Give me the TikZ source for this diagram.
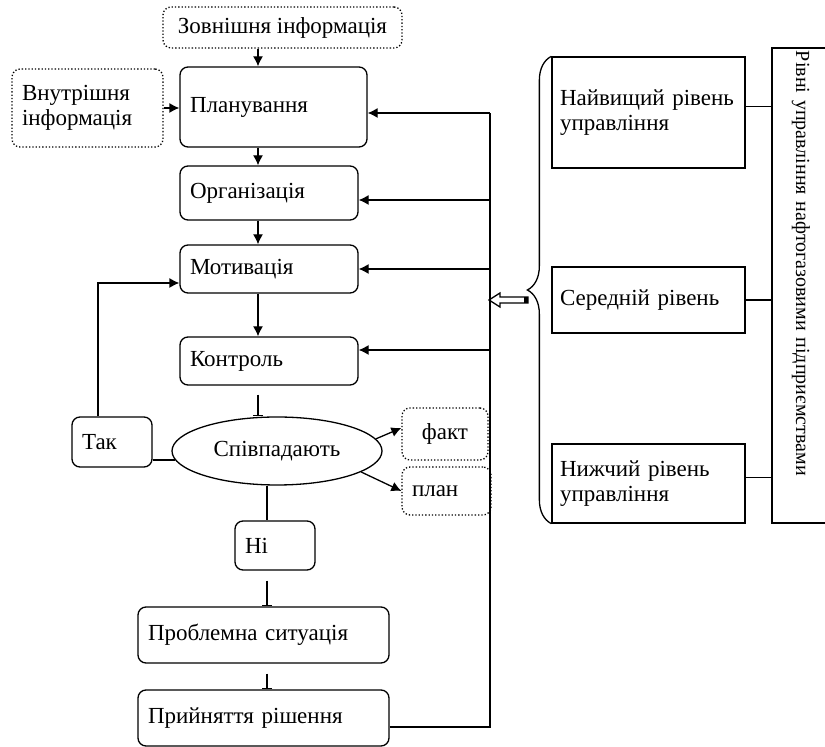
\documentclass[tikz,border=0pt]{standalone}
\usepackage{fontspec}
\setmainfont{Liberation Serif}
\usetikzlibrary{arrows.meta, calc, shapes.geometric, decorations.pathreplacing}

\begin{document}
\begin{tikzpicture}[x=0.5pt, y=-0.5pt, line width=0.65pt,
    font=\fontsize{11.5}{12.5}\selectfont,
    box/.style={draw, rectangle, rounded corners=4pt, align=left, inner xsep=5pt, inner ysep=2pt},
    infobox/.style={box, densely dotted},
    levelbox/.style={draw, rectangle, align=left, inner xsep=4pt, inner ysep=2pt, text width=88.5pt},
    arr/.style={-{Latex[length=5pt, width=5pt]}},
    tick/.style={-{Bar[width=5pt]}}]
    \useasboundingbox (0,0) rectangle (825,747);
    \clip (0,0) rectangle (825,747);

    % main column
    \node[infobox, minimum width=119.5pt, minimum height=20.5pt, align=center] (extInfo) at (282.5,27.5) {Зовнішня інформація};
    \node[infobox, text width=65.5pt, minimum height=39pt] (intInfo) at (87.5,108) {Внутрішня\\інформація};
    \node[box, text width=83.5pt, minimum height=40pt] (planning) at (273.5,107) {Планування};
    \node[box, text width=79pt, minimum height=27pt] (organizing) at (269,193) {Організація};
    \node[box, text width=79pt, minimum height=24pt] (motivating) at (269,269) {Мотивація};
    \node[box, text width=79pt, minimum height=24pt] (controlling) at (269,361) {Контроль};
    \node[draw, ellipse, minimum width=105pt, minimum height=34pt, inner sep=0pt] (match) at (277,451) {Співпадають};
    \node[box, text width=30pt, minimum height=25pt] (yes) at (112,442) {Так};
    \node[infobox, minimum width=43pt, minimum height=26pt, inner xsep=0pt] (fact) at (445,434) {факт};
    \node[infobox, text width=34.5pt, minimum height=24pt] (plan) at (446.5,491) {план};
    \node[box, text width=30pt, minimum height=24.5pt] (no) at (275,545.5) {Ні};
    \node[box, text width=115.5pt, minimum height=28pt] (problem) at (263.5,635) {Проблемна ситуація};
    \node[box, text width=115.5pt, minimum height=28pt] (decision) at (263.5,718) {Прийняття рішення};

    % levels
    \node[levelbox, minimum height=55.5pt] (topLevel) at (648.5,112.5) {Найвищий рівень\\управління};
    \node[levelbox, minimum height=33pt] (midLevel) at (648.5,300) {Середній рівень};
    \node[levelbox, minimum height=39.5pt] (lowLevel) at (648.5,483.5) {Нижчий рівень\\управління};
    \node[draw, rotate=-90, minimum width=237.5pt, minimum height=29pt, text width=234.5pt, inner xsep=1.5pt, align=left,
        font=\fontsize{10}{12}\selectfont] (levels) at (801,285.5) {Рівні управління нафтогазовими підприємствами};

    \coordinate (spine) at (258,0);
    \coordinate (spineLow) at (267,0);
    \draw[arr] (extInfo.south -| spine) -- (planning.north -| spine);
    \draw[arr] (intInfo.east) -- (intInfo.east -| planning.west);
    \draw[arr] (planning.south -| spine) -- (organizing.north -| spine);
    \draw[arr] (organizing.south -| spine) -- (motivating.north -| spine);
    \draw[arr] (motivating.south -| spine) -- (controlling.north -| spine);
    \draw[tick, shorten <=4.5pt] (controlling.south -| spine) -- (match.north -| spine);
    \draw (match.south -| spineLow) -- (no.north -| spineLow);
    \draw[tick, shorten <=5pt] (no.south -| spineLow) -- (problem.north -| spineLow);
    \draw[tick, shorten <=5pt] (problem.south -| spineLow) -- (decision.north -| spineLow);

    % yes loop
    \coordinate (yesOut) at ([xshift=-7pt]yes.north);
    \coordinate (motIn) at ([yshift=-7pt]motivating.west);
    \draw[arr] (yesOut) |- (motIn);
    \draw (match.185) -- (match.185 -| yes.east);
    \coordinate (factIn) at ([yshift=3pt]fact.west);
    \draw[arr] (match.7) -- (factIn);
    \draw[arr] (match.-14) -- (plan.west);

    % feedback line
    \coordinate (busTop) at (490,113);
    \coordinate (decOut) at ([yshift=-4.5pt]decision.east);
    \coordinate (orgIn) at ([yshift=-3.5pt]organizing.east);
    \coordinate (ctrlIn) at ([yshift=5.5pt]controlling.east);
    \draw (decOut) -| (busTop);
    \draw[arr] (busTop) -- (busTop -| planning.east);
    \draw[arr] (orgIn -| busTop) -- (orgIn);
    \draw[arr] (motivating.east -| busTop) -- (motivating.east);
    \draw[arr] (ctrlIn -| busTop) -- (ctrlIn);

    % brace and hollow arrow
    \draw[decorate, decoration={brace, amplitude=12pt}] (lowLevel.south west) -- (topLevel.north west);
    \coordinate (braceTip) at (528,300);
    \draw (braceTip) ++(0,-3) -- ++(-28,0) -- ++(0,-4) -- ++(-11,7) -- ++(11,7) -- ++(0,-4) -- ++(28,0) -- cycle;
    \fill (braceTip) ++(-4,-3) rectangle ++(4,6);

    \coordinate (topOut) at ([yshift=3pt]topLevel.east);
    \coordinate (lowOut) at ([yshift=3pt]lowLevel.east);
    \draw (topOut) -- (topOut -| levels.south);
    \draw (midLevel.east) -- (midLevel.east -| levels.south);
    \draw (lowOut) -- (lowOut -| levels.south);
\end{tikzpicture}
\end{document}
